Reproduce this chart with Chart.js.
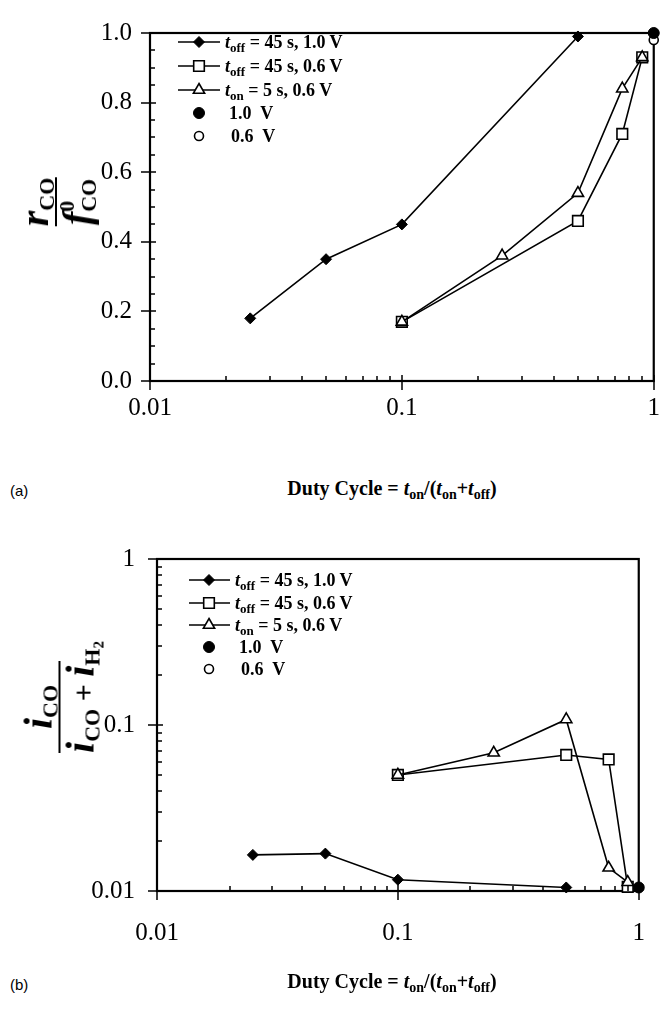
<!DOCTYPE html>
<html>
<head>
<meta charset="utf-8">
<script src="https://cdn.jsdelivr.net/npm/chart.js@4.4.0/dist/chart.umd.min.js"></script>
<style>
  body { margin: 0; background: #fff; width: 672px; height: 1009px; position: relative; overflow: hidden; }
  canvas { position: absolute; left: 0; }
  #chartA { top: 0; }
  #chartB { top: 510px; }
  .txt { position: absolute; font-family: 'Liberation Serif', serif; color: #000; white-space: nowrap; z-index: 2; }
  .leg { font-weight: bold; font-size: 18px; line-height: 22px; height: 22px; }
  .leg i, .xt i { font-style: italic; }
  .leg sub { font-size: 13px; vertical-align: -4px; line-height: 0; }
  .xt { font-weight: bold; font-size: 20px; transform: translate(-50%, -50%); }
  .xt sub { font-size: 14px; vertical-align: -4px; line-height: 0; }
  .panel { position: absolute; font-family: 'Liberation Sans', Arial, sans-serif; font-size: 15px; transform: translateY(-50%); }
  .ylab { position: absolute; font-family: 'Liberation Serif', serif; font-weight: bold; font-style: italic;
          transform: translate(-50%, -50%) rotate(-90deg); display: flex; flex-direction: column; align-items: center; white-space: nowrap; }
  .ylab .num, .ylab .den { font-size: 40px; line-height: 36px; }
  .ylab .bar { border-top: 2.5px solid #000; align-self: stretch; margin: 2px 0; }
  .ylab .s { font-size: 22px; font-style: normal; vertical-align: -6px; line-height: 0; }
  .ylab .p { font-size: 22px; font-style: normal; vertical-align: 16px; line-height: 0; }
  .ylab .op { font-style: normal; font-size: 30px; }
  #ylabB .bar { align-self: flex-start; width: 92px; }
  #ylabB .num { align-self: flex-start; width: 92px; text-align: center; }
</style>
</head>
<body>
<canvas id="chartA" width="672" height="470"></canvas>
<canvas id="chartB" width="672" height="460"></canvas>

<div class="ylab" id="ylabA" style="left:56px; top:202px;">
  <div class="num">r<span class="s">CO</span></div>
  <div class="bar"></div>
  <div class="den">f<span class="p">0</span><span class="s" style="margin-left:-11px">CO</span></div>
</div>
<div class="ylab" id="ylabB" style="left:61px; top:697px;">
  <div class="num">i<span class="s">CO</span></div>
  <div class="bar"></div>
  <div class="den">i<span class="s">CO</span><span class="op"> + </span>i<span class="s">H<sub style="font-size:15px;vertical-align:-4px">2</sub></span></div>
</div>

<div class="txt leg" style="left:225px; top:31px;"><i>t</i><sub>off</sub> = 45 s, 1.0 V</div>
<div class="txt leg" style="left:225px; top:55px;"><i>t</i><sub>off</sub> = 45 s, 0.6 V</div>
<div class="txt leg" style="left:225px; top:79px;"><i>t</i><sub>on</sub> = 5 s, 0.6 V</div>
<div class="txt leg" style="left:229px; top:102px;">1.0&nbsp; V</div>
<div class="txt leg" style="left:231px; top:125px;">0.6&nbsp; V</div>

<div class="txt leg" style="left:235px; top:569px;"><i>t</i><sub>off</sub> = 45 s, 1.0 V</div>
<div class="txt leg" style="left:235px; top:592px;"><i>t</i><sub>off</sub> = 45 s, 0.6 V</div>
<div class="txt leg" style="left:235px; top:614px;"><i>t</i><sub>on</sub> = 5 s, 0.6 V</div>
<div class="txt leg" style="left:239px; top:636px;">1.0&nbsp; V</div>
<div class="txt leg" style="left:241px; top:658px;">0.6&nbsp; V</div>

<div class="txt xt" style="left:392px; top:488px;">Duty Cycle = <i>t</i><sub>on</sub>/(<i>t</i><sub>on</sub>+<i>t</i><sub>off</sub>)</div>
<div class="txt xt" style="left:392px; top:981px;">Duty Cycle = <i>t</i><sub>on</sub>/(<i>t</i><sub>on</sub>+<i>t</i><sub>off</sub>)</div>

<div class="panel" style="left:10px; top:490px;">(a)</div>
<div class="panel" style="left:10px; top:984px;">(b)</div>

<script>
// ---- duty cycle (x) values ----
const dutyOff10 = [0.025, 0.05, 0.1, 0.5];
const dutyOff06 = [0.1, 0.5, 0.75, 0.9];
const dutyOn06 = [0.1, 0.25, 0.5, 0.75, 0.9];
const dutyDC = [1];

// ---- panel (a): r_CO / f0_CO ----
const rateOff10 = [0.18, 0.35, 0.45, 0.99];
const rateOff06 = [0.17, 0.46, 0.71, 0.93];
const rateOn06 = [0.17, 0.36, 0.54, 0.84, 0.93];
const rateDC10 = [1.0];
const rateDC06 = [0.98];

// ---- panel (b): i_CO / (i_CO + i_H2) ----
const fracOff10 = [0.0165, 0.0168, 0.0117, 0.0105];
const fracOff06 = [0.05, 0.066, 0.062, 0.0106];
const fracOn06 = [0.05, 0.068, 0.108, 0.0138, 0.0113];
const fracDC10 = [0.0105];
const fracDC06 = [0.0105];

// ---- ticks ----
const xMajor = [0.01, 0.1, 1];
const xMajorLabels = ['0.01', '0.1', '1'];
const xMinor = [0.02, 0.03, 0.04, 0.05, 0.06, 0.07, 0.08, 0.09, 0.2, 0.3, 0.4, 0.5, 0.6, 0.7, 0.8, 0.9];
const yMajorA = [0, 0.2, 0.4, 0.6, 0.8, 1.0];
const yMinorA = [0.05, 0.1, 0.15, 0.25, 0.3, 0.35, 0.45, 0.5, 0.55, 0.65, 0.7, 0.75, 0.85, 0.9, 0.95];
const yMajorB = [0.01, 0.1, 1];
const yMajorLabelsB = ['0.01', '0.1', '1'];
const yMinorB = xMinor;

// ticks de cada painel (fora das opções do Chart.js)
const tickSets = {
    chartA: { yMajor: yMajorA, yMinor: yMinorA },
    chartB: { yMajor: yMajorB, yMinor: yMinorB }
};

Chart.defaults.font.family = "'Liberation Serif', serif";
Chart.defaults.color = '#000';

// estilos dos marcadores
const sDiamond = { pointStyle: 'rectRot', pointRadius: 5.5, pointBackgroundColor: '#000', pointBorderColor: '#000', pointBorderWidth: 1 };
const sSquare = { pointStyle: 'rect', pointRadius: 7.5, pointBackgroundColor: '#fff', pointBorderColor: '#000', pointBorderWidth: 1.6 };
const sTriangle = { pointStyle: 'triangle', pointRadius: 6.5, pointBackgroundColor: '#fff', pointBorderColor: '#000', pointBorderWidth: 1.6 };
const sDot = { pointStyle: 'circle', pointRadius: 5.5, pointBackgroundColor: '#000', pointBorderColor: '#000', pointBorderWidth: 1, showLine: false };
const sRing = { pointStyle: 'circle', pointRadius: 4.5, pointBackgroundColor: '#fff', pointBorderColor: '#000', pointBorderWidth: 1.6, showLine: false };

function serie(label, xs, ys, style) {
    return Object.assign({
        label: label,
        data: xs.map((x, i) => ({ x: x, y: ys[i] })),
        borderColor: '#000',
        borderWidth: 1.6,
        tension: 0,
        clip: false
    }, style);
}

function drawMark(ctx, ds, x, y) {
    const r = ds.pointRadius;
    ctx.beginPath();
    if (ds.pointStyle === 'rectRot') {
        ctx.moveTo(x, y - r); ctx.lineTo(x + r, y); ctx.lineTo(x, y + r); ctx.lineTo(x - r, y);
        ctx.closePath();
    } else if (ds.pointStyle === 'rect') {
        const h = r * Math.SQRT1_2;
        ctx.rect(x - h, y - h, 2 * h, 2 * h);
    } else if (ds.pointStyle === 'triangle') {
        let rad = 0;
        for (let k = 0; k < 3; k++) {
            const px = x + Math.sin(rad) * r, py = y - Math.cos(rad) * r;
            if (k === 0) ctx.moveTo(px, py); else ctx.lineTo(px, py);
            rad += 2 * Math.PI / 3;
        }
        ctx.closePath();
    } else {
        ctx.arc(x, y, r, 0, Math.PI * 2);
    }
    ctx.fillStyle = ds.pointBackgroundColor;
    ctx.strokeStyle = ds.pointBorderColor;
    ctx.lineWidth = ds.pointBorderWidth;
    ctx.fill();
    ctx.stroke();
}

// moldura + ticks internos/externos
const frameTicks = {
    id: 'frameTicks',
    afterDraw(chart) {
        const ctx = chart.ctx, a = chart.chartArea;
        const xs = chart.scales.x, ys = chart.scales.y;
        const t = tickSets[chart.canvas.id];
        ctx.save();
        ctx.fillStyle = '#000';
        xMinor.forEach(v => {
            const px = Math.round(xs.getPixelForValue(v));
            ctx.fillRect(px - 0.75, a.bottom - 5, 1.5, 5);
        });
        xMajor.forEach(v => {
            const px = Math.round(xs.getPixelForValue(v));
            ctx.fillRect(px - 0.75, a.bottom - 6, 1.5, 15);
        });
        t.yMinor.forEach(v => {
            const py = Math.round(ys.getPixelForValue(v));
            ctx.fillRect(a.left, py - 0.75, 5, 1.5);
        });
        t.yMajor.forEach(v => {
            const py = Math.round(ys.getPixelForValue(v));
            ctx.fillRect(a.left - 9, py - 0.75, 15, 1.5);
        });
        ctx.restore();
    },
    beforeDatasetsDraw(chart) {
        const ctx = chart.ctx, a = chart.chartArea;
        ctx.save();
        ctx.strokeStyle = '#000';
        ctx.lineWidth = 2.2;
        ctx.strokeRect(a.left, a.top, a.right - a.left, a.bottom - a.top);
        ctx.restore();
    }
};

// legenda desenhada à mão (texto fica no HTML)
const legendMarks = {
    id: 'legendMarks',
    afterDraw(chart, args, o) {
        const ctx = chart.ctx;
        ctx.save();
        o.rows.forEach((y, i) => {
            const ds = chart.data.datasets[o.order[i]];
            if (ds.showLine !== false) {
                ctx.beginPath();
                ctx.strokeStyle = '#000';
                ctx.lineWidth = 1.6;
                ctx.moveTo(o.x0, y); ctx.lineTo(o.x1, y);
                ctx.stroke();
            }
            drawMark(ctx, ds, o.xm, y);
        });
        ctx.restore();
    }
};

function tickFont() { return { family: "'Liberation Serif', serif", size: 25 }; }

function makeChart(id, cfg) {
    return new Chart(document.getElementById(id), {
        type: 'line',
        data: { datasets: cfg.datasets },
        options: {
            responsive: false,
            animation: false,
            devicePixelRatio: 1,
            layout: { padding: cfg.padding },
            plugins: {
                legend: { display: false },
                tooltip: { enabled: false },
                legendMarks: cfg.legend
            },
            scales: {
                x: {
                    type: 'logarithmic',
                    min: 0.01, max: 1,
                    afterBuildTicks: s => { s.ticks = xMajor.map(v => ({ value: v })); },
                    afterFit: s => { s.height = cfg.xHeight; },
                    grid: { display: false, drawTicks: false },
                    border: { display: false },
                    ticks: {
                        font: tickFont(), color: '#000', padding: cfg.xPad, maxRotation: 0, autoSkip: false,
                        callback: (v, i) => xMajorLabels[i]
                    }
                },
                y: cfg.y
            }
        },
        plugins: [frameTicks, legendMarks]
    });
}

// datasets: a ordem garante que triângulos ficam sobre quadrados e ponto cheio sobre o vazio
makeChart('chartA', {
    datasets: [
        serie('toff = 45 s, 1.0 V', dutyOff10, rateOff10, sDiamond),
        serie('ton = 5 s, 0.6 V', dutyOn06, rateOn06, sTriangle),
        serie('toff = 45 s, 0.6 V', dutyOff06, rateOff06, sSquare),
        serie('1.0 V', dutyDC, rateDC10, sDot),
        serie('0.6 V', dutyDC, rateDC06, sRing)
    ],
    padding: { top: 22, right: 9, left: 0, bottom: 0 },
    xHeight: 89,
    xPad: 12,
    legend: { x0: 178, x1: 220, xm: 199, rows: [42, 66, 90, 113, 136], order: [0, 2, 1, 3, 4] },
    y: {
        type: 'linear',
        min: 0, max: 1,
        afterBuildTicks: s => { s.ticks = yMajorA.map(v => ({ value: v })); },
        afterFit: s => { s.width = 150; },
        grid: { display: false, drawTicks: false },
        border: { display: false },
        ticks: { font: tickFont(), color: '#000', padding: 18, callback: v => v.toFixed(1) }
    }
});

makeChart('chartB', {
    datasets: [
        serie('toff = 45 s, 1.0 V', dutyOff10, fracOff10, sDiamond),
        serie('ton = 5 s, 0.6 V', dutyOn06, fracOn06, sTriangle),
        serie('toff = 45 s, 0.6 V', dutyOff06, fracOff06, sSquare),
        serie('1.0 V', dutyDC, fracDC10, sDot),
        serie('0.6 V', dutyDC, fracDC06, sRing)
    ],
    padding: { top: 49, right: 8, left: 0, bottom: 0 },
    xHeight: 79,
    xPad: 27,
    legend: { x0: 189, x1: 230, xm: 209, rows: [70, 93, 115, 137, 159], order: [0, 2, 1, 3, 4] },
    y: {
        type: 'logarithmic',
        min: 0.01, max: 1,
        afterBuildTicks: s => { s.ticks = yMajorB.map(v => ({ value: v })); },
        afterFit: s => { s.width = 157; },
        grid: { display: false, drawTicks: false },
        border: { display: false },
        ticks: { font: tickFont(), color: '#000', padding: 22, callback: (v, i) => yMajorLabelsB[i] }
    }
});
</script>
</body>
</html>
